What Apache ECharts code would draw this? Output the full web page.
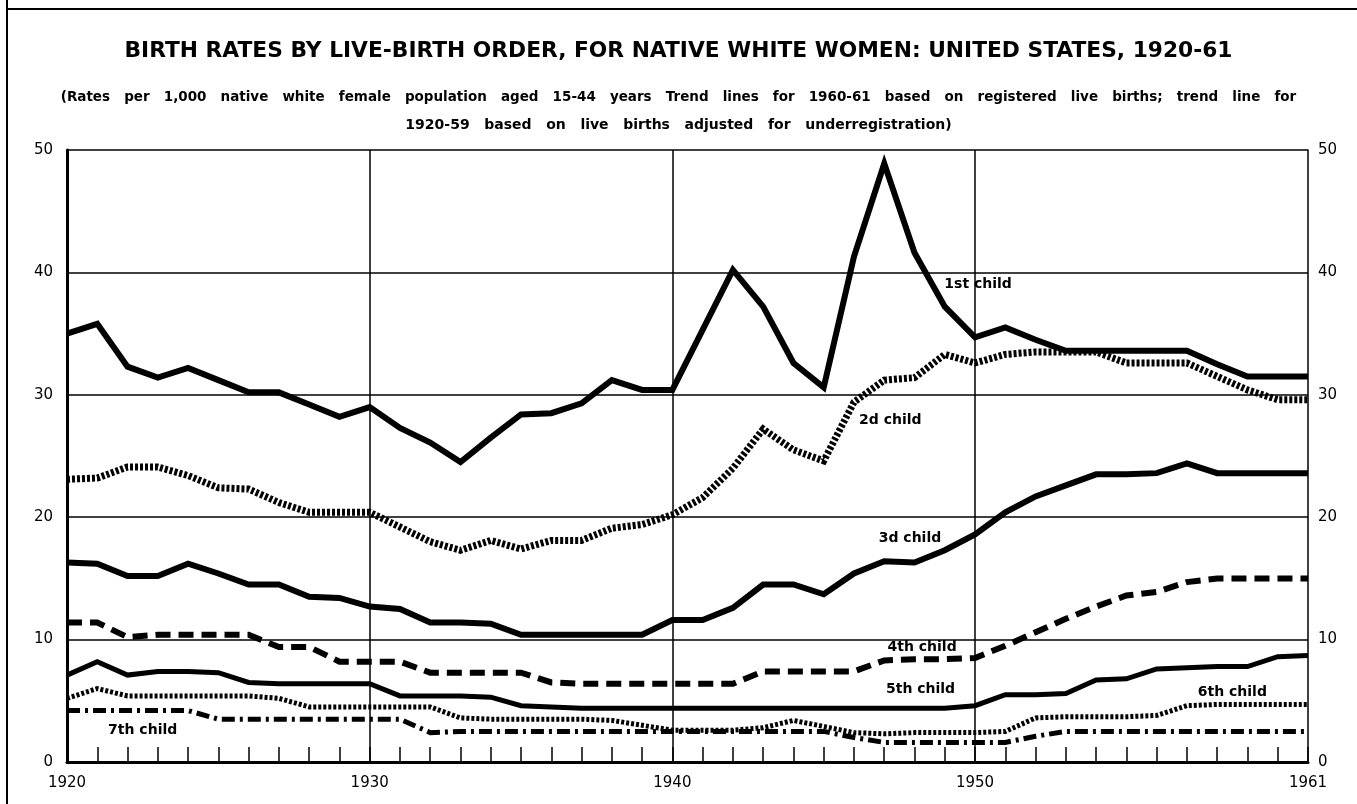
<!DOCTYPE html>
<html style="height: 100%">
<head>
    <meta charset="UTF-8">
    <title>Birth rates by live-birth order</title>
    <script src="https://cdn.jsdelivr.net/npm/echarts@6/dist/echarts.min.js"></script>
</head>
<body style="height: 100%; margin: 0; background: #fff">
    <div id="main" style="width: 1357px; height: 804px;"></div>
    <script>
        // years 1920 - 1961
        var years = [];
        for (var y = 1920; y <= 1961; y++) years.push(y);

        var first = [35.0, 35.8, 32.3, 31.4, 32.2, 31.2, 30.2, 30.2, 29.2, 28.2,
                     29.0, 27.3, 26.1, 24.5, 26.5, 28.4, 28.5, 29.3, 31.2, 30.4,
                     30.4, 35.3, 40.2, 37.2, 32.6, 30.6, 41.3, 48.9, 41.6, 37.2,
                     34.7, 35.5, 34.5, 33.6, 33.6, 33.6, 33.6, 33.6, 32.5, 31.5,
                     31.5, 31.5];
        var second = [23.1, 23.2, 24.1, 24.1, 23.4, 22.4, 22.3, 21.2, 20.4, 20.4,
                      20.4, 19.2, 18.0, 17.3, 18.1, 17.4, 18.1, 18.1, 19.1, 19.4,
                      20.2, 21.6, 24.0, 27.2, 25.5, 24.6, 29.4, 31.2, 31.4, 33.3,
                      32.6, 33.3, 33.5, 33.5, 33.5, 32.6, 32.6, 32.6, 31.5, 30.4,
                      29.6, 29.6];
        var third = [16.3, 16.2, 15.2, 15.2, 16.2, 15.4, 14.5, 14.5, 13.5, 13.4,
                     12.7, 12.5, 11.4, 11.4, 11.3, 10.4, 10.4, 10.4, 10.4, 10.4,
                     11.6, 11.6, 12.6, 14.5, 14.5, 13.7, 15.4, 16.4, 16.3, 17.3,
                     18.6, 20.4, 21.7, 22.6, 23.5, 23.5, 23.6, 24.4, 23.6, 23.6,
                     23.6, 23.6];
        var fourth = [11.4, 11.4, 10.2, 10.4, 10.4, 10.4, 10.4, 9.4, 9.4, 8.2,
                      8.2, 8.2, 7.3, 7.3, 7.3, 7.3, 6.5, 6.4, 6.4, 6.4,
                      6.4, 6.4, 6.4, 7.4, 7.4, 7.4, 7.4, 8.3, 8.4, 8.4,
                      8.5, 9.5, 10.6, 11.7, 12.7, 13.6, 13.9, 14.7, 15.0, 15.0,
                      15.0, 15.0];
        var fifth = [7.1, 8.2, 7.1, 7.4, 7.4, 7.3, 6.5, 6.4, 6.4, 6.4,
                     6.4, 5.4, 5.4, 5.4, 5.3, 4.6, 4.5, 4.4, 4.4, 4.4,
                     4.4, 4.4, 4.4, 4.4, 4.4, 4.4, 4.4, 4.4, 4.4, 4.4,
                     4.6, 5.5, 5.5, 5.6, 6.7, 6.8, 7.6, 7.7, 7.8, 7.8,
                     8.6, 8.7];
        var sixth = [5.2, 6.0, 5.4, 5.4, 5.4, 5.4, 5.4, 5.2, 4.5, 4.5,
                     4.5, 4.5, 4.5, 3.6, 3.5, 3.5, 3.5, 3.5, 3.4, 3.0,
                     2.6, 2.6, 2.6, 2.8, 3.4, 2.9, 2.4, 2.3, 2.4, 2.4,
                     2.4, 2.5, 3.6, 3.7, 3.7, 3.7, 3.8, 4.6, 4.7, 4.7,
                     4.7, 4.7];
        var seventh = [4.2, 4.2, 4.2, 4.2, 4.2, 3.5, 3.5, 3.5, 3.5, 3.5,
                       3.5, 3.5, 2.4, 2.5, 2.5, 2.5, 2.5, 2.5, 2.5, 2.5,
                       2.5, 2.5, 2.5, 2.5, 2.5, 2.5, 2.0, 1.6, 1.6, 1.6,
                       1.6, 1.6, 2.1, 2.5, 2.5, 2.5, 2.5, 2.5, 2.5, 2.5,
                       2.5, 2.5];

        var seriesNames = ['1st child', '2d child', '3d child', '4th child', '5th child', '6th child', '7th child'];
        // where each line's name is written, [year, rate]
        var labelAt = [[1950.1, 39.0], [1947.2, 27.9], [1947.85, 18.3], [1948.25, 9.4],
                       [1948.2, 5.9], [1958.5, 5.7], [1922.5, 2.6]];
        var xLabels = [1920, 1930, 1940, 1950, 1961];
        var gridYears = [1930, 1940, 1950];

        var font = '"DejaVu Sans", sans-serif';
        var styles = [
            { width: 6, type: 'solid' },
            { width: 7, type: [3, 2] },
            { width: 6, type: 'solid' },
            { width: 6, type: [15, 8] },
            { width: 5, type: 'solid' },
            { width: 5, type: [3, 2] },
            { width: 5, type: [13, 5, 3, 5] }
        ];
        var allData = [first, second, third, fourth, fifth, sixth, seventh];

        var series = allData.map(function (vals, i) {
            return {
                name: seriesNames[i],
                type: 'line',
                symbol: 'none',
                animation: false,
                z: 5,
                lineStyle: { color: '#000', width: styles[i].width, type: styles[i].type, cap: 'butt', join: 'miter' },
                data: years.map(function (yr, k) { return [yr, vals[k]]; }),
                markPoint: {
                    symbol: 'rect',
                    symbolSize: 1,
                    itemStyle: { color: 'transparent' },
                    label: {
                        show: true, position: 'inside', formatter: seriesNames[i],
                        color: '#000', fontFamily: font, fontSize: 14, fontWeight: 'bold'
                    },
                    data: [{ coord: labelAt[i] }]
                }
            };
        });

        // vertical decade lines
        series.push({
            type: 'line', data: [], symbol: 'none', z: 2,
            markLine: {
                symbol: 'none', silent: true, animation: false,
                label: { show: false },
                lineStyle: { color: '#000', width: 1.5, type: 'solid' },
                data: gridYears.map(function (g) { return { xAxis: g }; })
            }
        });

        // the printed subtitle is set with wide word spacing
        function spread(s) { return s.split(' ').join('   '); }

        var myChart = echarts.init(document.getElementById('main'));
        var option = {
            animation: false,
            backgroundColor: '#fff',
            title: [{
                text: 'BIRTH RATES BY LIVE-BIRTH ORDER, FOR NATIVE WHITE WOMEN: UNITED STATES, 1920-61',
                left: 'center', top: 35,
                textStyle: { fontFamily: font, fontSize: 21.75, fontWeight: 'bold', color: '#000' }
            }, {
                text: spread('(Rates per 1,000 native white female population aged 15-44 years Trend lines for 1960-61 based on registered live births; trend line for'),
                left: 'center', top: 85,
                textStyle: { fontFamily: font, fontSize: 13.5, fontWeight: 'bold', color: '#000' }
            }, {
                text: spread('1920-59 based on live births adjusted for underregistration)'),
                left: 'center', top: 113,
                textStyle: { fontFamily: font, fontSize: 14, fontWeight: 'bold', color: '#000' }
            }],
            graphic: [
                { type: 'line', shape: { x1: 7, y1: 0, x2: 7, y2: 804 }, style: { stroke: '#000', lineWidth: 2 } },
                { type: 'line', shape: { x1: 7, y1: 9, x2: 1357, y2: 9 }, style: { stroke: '#000', lineWidth: 2 } }
            ],
            grid: { left: 67, right: 49, top: 150, bottom: 42, containLabel: false },
            xAxis: {
                type: 'value', min: 1920, max: 1961, interval: 1,
                axisLine: { show: true, onZero: false, lineStyle: { color: '#000', width: 3 } },
                axisTick: { show: true, inside: true, length: 15, lineStyle: { color: '#000', width: 1.5 } },
                splitLine: { show: false },
                axisLabel: {
                    color: '#000', fontFamily: font, fontSize: 15, margin: 14,
                    formatter: function (v) { return xLabels.indexOf(v) >= 0 ? String(v) : ''; }
                }
            },
            yAxis: [{
                type: 'value', min: 0, max: 50, interval: 10, position: 'left',
                axisLine: { show: true, lineStyle: { color: '#000', width: 3 } },
                axisTick: { show: false },
                splitLine: { show: true, lineStyle: { color: '#000', width: 1.5 } },
                axisLabel: { color: '#000', fontFamily: font, fontSize: 15, margin: 14 }
            }, {
                type: 'value', min: 0, max: 50, interval: 10, position: 'right',
                axisLine: { show: true, lineStyle: { color: '#000', width: 1.5 } },
                axisTick: { show: false },
                splitLine: { show: false },
                axisLabel: { color: '#000', fontFamily: font, fontSize: 15, margin: 10 }
            }],
            series: series
        };
        myChart.setOption(option);
    </script>
</body>
</html>
